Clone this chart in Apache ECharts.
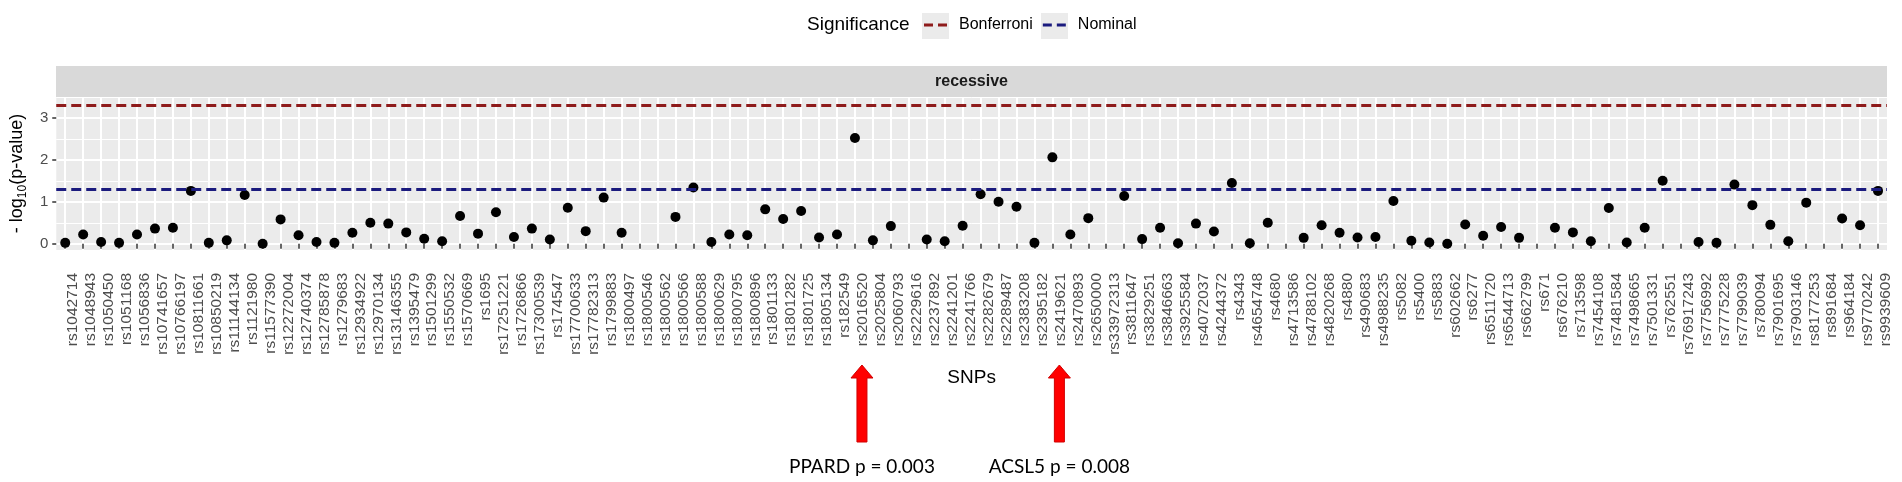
<!DOCTYPE html>
<html><head><meta charset="utf-8">
<script src="https://cdn.jsdelivr.net/npm/echarts@6.0.0/dist/echarts.min.js"></script>
<style>html,body{margin:0;padding:0;background:#fff}#c{width:1902px;height:482px}</style>
</head><body><div id="c"></div>
<script>
const snps = ['rs1042714','rs1048943','rs1050450','rs1051168','rs1056836','rs10741657','rs10766197','rs10811661','rs10850219','rs11144134',
'rs1121980','rs11577390','rs12272004','rs12740374','rs12785878','rs1279683','rs12934922','rs12970134','rs13146355','rs1395479',
'rs1501299','rs1550532','rs1570669','rs1695','rs17251221','rs1726866','rs17300539','rs174547','rs17700633','rs17782313',
'rs1799883','rs1800497','rs1800546','rs1800562','rs1800566','rs1800588','rs1800629','rs1800795','rs1800896','rs1801133',
'rs1801282','rs1801725','rs1805134','rs182549','rs2016520','rs2025804','rs2060793','rs2229616','rs2237892','rs2241201',
'rs2241766','rs2282679','rs2289487','rs2383208','rs2395182','rs2419621','rs2470893','rs2650000','rs33972313','rs3811647',
'rs3829251','rs3846663','rs3925584','rs4072037','rs4244372','rs4343','rs4654748','rs4680','rs4713586','rs4788102',
'rs4820268','rs4880','rs490683','rs4988235','rs5082','rs5400','rs5883','rs602662','rs6277','rs6511720',
'rs6544713','rs662799','rs671','rs676210','rs713598','rs7454108','rs7481584','rs7498665','rs7501331','rs762551',
'rs76917243','rs7756992','rs7775228','rs7799039','rs780094','rs7901695','rs7903146','rs8177253','rs891684','rs964184',
'rs9770242','rs9939609'];

const negLogP = [0.02,0.22,0.04,0.02,0.22,0.36,0.38,1.26,0.02,0.08,
1.16,0.00,0.58,0.20,0.04,0.02,0.26,0.50,0.48,0.27,
0.12,0.06,0.66,0.24,0.75,0.16,0.36,0.10,0.86,0.30,
1.10,0.26,null,null,0.64,1.34,0.04,0.22,0.20,0.82,
0.59,0.78,0.15,0.22,2.52,0.08,0.42,null,0.10,0.06,
0.43,1.18,1.00,0.88,0.02,2.06,0.22,0.61,null,1.14,
0.11,0.38,0.01,0.48,0.29,1.45,0.01,0.50,null,0.14,
0.44,0.26,0.15,0.16,1.02,0.07,0.03,0.00,0.46,0.19,
0.40,0.14,null,0.38,0.27,0.06,0.85,0.03,0.38,1.50,
null,0.04,0.02,1.41,0.92,0.45,0.06,0.98,null,0.60,
0.44,1.26];

const yMajorTicks = [0, 1, 2, 3];
const yMinorTicks = [0.5, 1.5, 2.5, 3.5];
const thresholdNames = ['Bonferroni', 'Nominal'];
const thresholdValues = [3.31, 1.30];
const thresholdColors = ['#8e1b1b', '#1b1b7e'];
const panelLabel = 'recessive';
const legendTitle = 'Significance';
const annotSnps = ['rs2016520', 'rs2419621'];
const annotTexts = ['PPARD p = 0.003', 'ACSL5 p = 0.008'];

const FONT = '"Liberation Sans", Arial, sans-serif';
const chart = echarts.init(document.getElementById('c'), null, {renderer: 'canvas'});

const thresholdSeries = thresholdNames.map((n, i) => ({
  type: 'line', name: n, data: [], color: thresholdColors[i], z: 4,
  lineStyle: {color: thresholdColors[i], type: [10, 5], width: 3},
  markLine: {silent: true, symbol: 'none', label: {show: false},
    lineStyle: {color: thresholdColors[i], type: [10, 5], width: 3},
    data: [{yAxis: thresholdValues[i]}]}
}));

const option = {
  animation: false,
  backgroundColor: '#ffffff',
  grid: {left: 56, right: 15, top: 97, bottom: 232, show: true, backgroundColor: '#ebebeb', borderWidth: 0},
  title: {text: legendTitle, left: 807, top: 15, padding: 0,
    textStyle: {fontSize: 19, fontWeight: 'normal', color: '#000', fontFamily: FONT}},
  legend: {left: 924, top: 17, padding: 0, itemWidth: 23, itemHeight: 3, itemGap: 10,
    selectedMode: false, data: thresholdNames,
    icon: 'path://M0,0H9V3H0Z M14,0H23V3H14Z',
    textStyle: {fontSize: 16, color: '#000', fontFamily: FONT, padding: [0, 0, 0, 7]}},
  xAxis: {
    type: 'category', data: snps, boundaryGap: true, offset: 12,
    axisLine: {show: false},
    axisTick: {show: true, alignWithLabel: true, length: 5, lineStyle: {color: '#333', width: 1.5}},
    axisLabel: {interval: 0, rotate: 90, fontSize: 15.5, color: '#4d4d4d', fontFamily: FONT, margin: 11, verticalAlign: 'top'},
    splitLine: {show: true, alignWithLabel: true, lineStyle: {color: '#ffffff', width: 2}},
    name: 'SNPs', nameLocation: 'middle', nameGap: 106,
    nameTextStyle: {fontSize: 19, color: '#000', fontFamily: FONT}
  },
  yAxis: [{
    type: 'value', min: -0.15, max: 3.5,
    axisLine: {show: false},
    axisTick: {show: true, length: 4, customValues: yMajorTicks, lineStyle: {color: '#333', width: 1.5}},
    axisLabel: {customValues: yMajorTicks, fontSize: 15, color: '#4d4d4d', margin: 8, fontFamily: FONT},
    splitLine: {show: true, lineStyle: {color: '#ffffff', width: 2}},
    name: '{a|- log}{b|10}{a|(p-value)}', nameLocation: 'middle', nameGap: 19,
    nameTextStyle: {color: '#000', fontFamily: FONT, rich: {
      a: {fontSize: 18, color: '#000', fontFamily: FONT, verticalAlign: 'bottom', padding: [0, 0, 3, 0]},
      b: {fontSize: 12, color: '#000', fontFamily: FONT, verticalAlign: 'bottom'}
    }}
  }, {
    type: 'value', min: -0.15, max: 3.5, position: 'left',
    axisLine: {show: false},
    axisTick: {show: false, customValues: yMinorTicks},
    axisLabel: {show: false, customValues: yMinorTicks},
    splitLine: {show: true, lineStyle: {color: '#ffffff', width: 1}}
  }],
  series: [{
    type: 'scatter', name: 'SNP', data: negLogP, symbolSize: 10, z: 3, clip: false,
    itemStyle: {color: '#000000', opacity: 1}
  }].concat(thresholdSeries)
};
chart.setOption(option);

// Annotations positioned via the category axis scale
const gfx = [
  {type: 'rect', shape: {x: 56, y: 66, width: 1831, height: 31}, style: {fill: '#d9d9d9'}, z: 0},
  {type: 'text', x: 56 + 1831 / 2, y: 81.5, style: {text: panelLabel, fill: '#1a1a1a', font: 'bold 16px ' + FONT, textAlign: 'center', textVerticalAlign: 'middle'}},
  {type: 'rect', shape: {x: 922, y: 13, width: 27, height: 26}, style: {fill: '#ebebeb'}, z: -1},
  {type: 'rect', shape: {x: 1041, y: 13, width: 27, height: 26}, style: {fill: '#ebebeb'}, z: -1}
];
annotSnps.forEach((s, i) => {
  const cx = chart.convertToPixel({xAxisIndex: 0}, s) + 7;
  gfx.push({type: 'polygon', shape: {points: [
      [cx, 365], [cx + 11, 378], [cx + 5, 378], [cx + 5, 442], [cx - 5, 442], [cx - 5, 378], [cx - 11, 378]]},
    style: {fill: '#ff0000', stroke: '#d00000', lineWidth: 1}});
  gfx.push({type: 'text', x: cx, y: 467, style: {text: annotTexts[i], fill: '#000', font: '19px Lato, "Open Sans", sans-serif', textAlign: 'center', textVerticalAlign: 'middle'}});
});
chart.setOption({graphic: gfx});
</script>
</body></html>
